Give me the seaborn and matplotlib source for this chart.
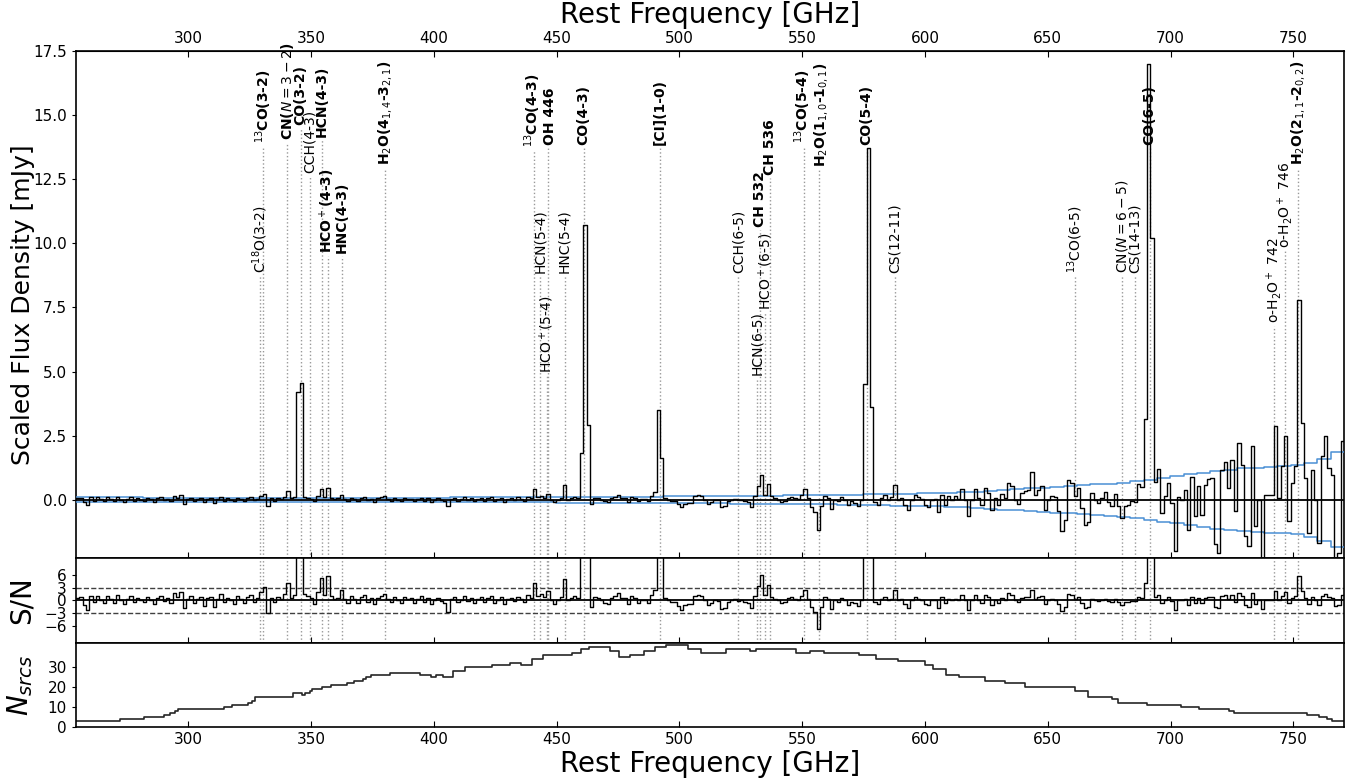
import numpy as np
import pandas as pd
import matplotlib
matplotlib.use("Agg")
import matplotlib.pyplot as plt
import seaborn as sns

# ---------------------------------------------------------------------------
# Stacked spectrum: rest-frame channel grid (GHz)
# ---------------------------------------------------------------------------
freq_lo, freq_hi, n_chan = 254.3, 770.6, 380
edges = np.linspace(freq_lo, freq_hi, n_chan + 1)

# scaled flux density per channel [mJy]
flux = [
    0.05, 0.08, -0.10, -0.22, 0.09, -0.04, 0.11, 0.02, -0.06, 0.09, 0.03, -0.05, 0.12, 0.01, -0.07, 0.04, 0.10, -0.03, 0.06, 0.00,
    -0.04, 0.07, 0.02, -0.08, 0.05, 0.10, -0.02, 0.04, -0.06, 0.15, 0.06, 0.17, -0.15, 0.03, 0.08, -0.05, 0.02, 0.06, -0.10, 0.04,
    0.07, -0.12, 0.03, 0.12, -0.03, 0.05, 0.00, -0.06, 0.08, 0.02, -0.04, 0.06, 0.10, -0.02, 0.04, 0.16, 0.24, -0.24, 0.05, -0.03,
    0.06, 0.02, 0.12, 0.33, 0.05, 0.10, 4.20, 4.55, 0.12, 0.08, 0.04, -0.06, 0.15, 0.42, 0.10, 0.45, 0.08, 0.02, 0.05, 0.20,
    0.03, -0.05, 0.08, 0.02, -0.04, 0.06, 0.11, -0.02, 0.04, -0.07, 0.05, 0.09, 0.13, 0.02, -0.03, 0.06, 0.00, -0.05, 0.07, 0.03,
    0.04, -0.06, 0.02, 0.08, -0.03, 0.05, -0.08, 0.01, 0.06, -0.02, -0.05, -0.25, 0.03, 0.07, -0.04, 0.02, 0.09, -0.01, 0.05, -0.06,
    0.03, 0.07, -0.03, 0.05, 0.10, -0.05, 0.02, 0.08, -0.07, 0.04, 0.06, -0.02, 0.09, 0.03, -0.04, 0.12, 0.05, 0.42, 0.10, 0.16,
    0.08, 0.24, 0.00, -0.10, 0.00, 0.08, 0.56, 0.00, 0.06, 0.12, 0.06, 1.82, 10.70, 2.92, -0.18, 0.08, 0.08, 0.00, -0.06, -0.10,
    0.06, 0.12, 0.20, 0.08, 0.06, -0.10, 0.12, 0.08, -0.06, 0.02, 0.02, -0.06, 0.15, 0.30, 3.50, 1.63, 0.06, 0.00, -0.04, -0.04,
    -0.18, -0.28, -0.15, -0.12, -0.12, 0.13, 0.17, 0.13, 0.00, -0.15, -0.08, 0.00, -0.02, -0.28, -0.25, -0.04, 0.00, 0.04, -0.02, 0.00,
    -0.04, -0.08, -0.28, 0.15, 0.54, 0.97, 0.20, 0.60, 0.15, 0.06, 0.00, -0.10, -0.06, 0.08, 0.12, 0.06, 0.02, 0.17, 0.43, 0.08,
    -0.28, -0.48, -1.17, -0.25, 0.13, 0.08, -0.35, 0.00, -0.06, 0.12, 0.00, -0.20, -0.06, -0.12, -0.25, 0.00, 4.50, 13.70, 3.60, -0.10,
    -0.20, 0.06, 0.19, 0.00, 0.10, 0.56, 0.00, 0.06, -0.20, -0.40, 0.00, 0.19, 0.10, 0.02, -0.20, -0.28, 0.00, 0.02, -0.48, 0.20,
    -0.20, 0.13, 0.00, 0.13, 0.03, 0.42, 0.00, -0.65, 0.00, 0.42, 0.07, -0.20, 0.45, 0.26, -0.39, 0.07, -0.20, 0.23, 0.07, 0.65,
    0.55, 0.00, -0.16, 0.26, 0.36, 0.39, 1.10, 0.20, 0.39, 0.52, -0.39, 0.00, 0.13, 0.10, -0.45, -1.23, -0.78, 0.78, 0.65, 0.13,
    0.45, -0.32, -0.97, -0.88, 0.26, 0.00, -0.13, 0.07, 0.29, -0.07, -0.26, 0.23, -0.26, -0.71, -0.26, -0.20, -0.04, -0.07, 0.62, 0.50,
    3.14, 17.00, 10.20, 0.71, 1.20, -0.52, 0.13, 0.65, -0.13, -2.00, 0.10, 0.00, 0.39, -1.17, 0.90, -0.65, 0.52, -0.58, 0.58, 0.80,
    0.84, -1.73, -2.08, 1.17, 1.49, 0.45, 1.56, -0.45, 2.23, 1.36, -1.43, -1.82, 2.10, -1.04, 0.00, -2.50, 0.20, 0.20, 0.20, 2.86,
    0.06, 1.30, 2.47, -0.84, 0.65, 1.30, 7.80, 3.00, 0.84, -1.30, 1.17, 0.00, -1.69, 1.69, 2.50, 1.23, 0.97, -2.50, -2.08, 2.30,
]

# 1-sigma noise, one value per group of four channels [mJy]
noise_per_4ch = [
    0.095, 0.095, 0.090, 0.090, 0.090, 0.088, 0.085, 0.085, 0.082, 0.080,
    0.080, 0.080, 0.078, 0.078, 0.078, 0.078, 0.078, 0.078, 0.078, 0.078,
    0.080, 0.080, 0.080, 0.082, 0.082, 0.085, 0.085, 0.088, 0.090, 0.090,
    0.092, 0.095, 0.095, 0.100, 0.100, 0.105, 0.108, 0.110, 0.112, 0.115,
    0.118, 0.120, 0.122, 0.125, 0.128, 0.130, 0.135, 0.140, 0.145, 0.150,
    0.155, 0.160, 0.165, 0.170, 0.172, 0.175, 0.180, 0.190, 0.200, 0.210,
    0.220, 0.230, 0.240, 0.250, 0.260, 0.280, 0.300, 0.320, 0.350, 0.380,
    0.410, 0.440, 0.470, 0.500, 0.530, 0.560, 0.600, 0.630, 0.660, 0.720,
    0.780, 0.850, 0.920, 1.000, 1.060, 1.120, 1.180, 1.220, 1.250, 1.280,
    1.300, 1.350, 1.450, 1.600, 1.850,
]

# number of stacked sources contributing at each frequency
nsrc_edges = [
    254.3, 272.4, 281.8, 290.0, 292.4, 294.5, 296.0, 314.5, 318.0, 324.5,
    326.0, 327.3, 342.7, 346.5, 347.5, 349.5, 350.5, 354.5, 358.0, 364.5,
    367.5, 371.0, 372.5, 374.5, 382.0, 394.5, 399.0, 401.0, 403.6, 408.0,
    412.7, 423.6, 431.0, 435.5, 440.0, 444.5, 456.4, 460.0, 463.0, 471.8,
    475.5, 480.0, 485.5, 490.0, 494.5, 503.7, 509.0, 519.0, 528.7, 531.0,
    547.3, 551.0, 553.0, 559.0, 573.0, 580.2, 589.0, 600.0, 603.3, 608.6,
    614.0, 624.6, 632.6, 640.6, 661.0, 666.4, 676.0, 678.8, 690.3, 704.2,
    711.5, 723.7, 725.7, 755.5, 760.3, 763.7, 765.7, 770.6,
]
nsrc_counts = [
    3, 4, 5, 6, 7, 8, 9, 10, 11, 12,
    13, 15, 17, 16, 17, 18, 19, 20, 21, 22,
    23, 24, 25, 26, 27, 26, 25, 26, 25, 28,
    30, 31, 32, 31, 34, 36, 37, 39, 40, 38,
    35, 36, 38, 40, 41, 39, 37, 39, 38, 39,
    37, 37, 38, 37, 36, 34, 33, 31, 29, 26,
    25, 23, 22, 20, 18, 15, 14, 12, 11, 10,
    9, 8, 7, 6, 5, 4, 3,
]

# spectral line markers: label, rest frequency [GHz], label height [mJy], bold
line_names = [
    r"C$^{18}$O(3-2)", r"$^{13}$CO(3-2)", r"CN($N=3-2$)", "CO(3-2)", "CCH(4-3)",
    "HCN(4-3)", r"HCO$^+$(4-3)", "HNC(4-3)", r"H$_2$O(4$_{1,4}$-3$_{2,1}$)",
    r"$^{13}$CO(4-3)", "HCN(5-4)", r"HCO$^+$(5-4)", "OH 446", "HNC(5-4)", "CO(4-3)",
    "[CI](1-0)", "CCH(6-5)", "HCN(6-5)", "CH 532", r"HCO$^+$(6-5)", "CH 536",
    r"$^{13}$CO(5-4)", r"H$_2$O(1$_{1,0}$-1$_{0,1}$)", "CO(5-4)", "CS(12-11)",
    r"$^{13}$CO(6-5)", r"CN($N=6-5$)", "CS(14-13)", "CO(6-5)",
    r"o-H$_2$O$^+$ 742", r"o-H$_2$O$^+$ 746", r"H$_2$O(2$_{1,1}$-2$_{0,2}$)",
]
line_freqs = [
    329.33, 330.59, 340.25, 345.80, 349.40,
    354.51, 356.73, 362.63, 380.20,
    440.77, 443.12, 445.90, 446.50, 453.27, 461.04,
    492.16, 523.97, 531.72, 532.70, 535.06, 536.80,
    550.93, 556.94, 576.27, 587.62,
    661.07, 680.20, 685.44, 691.47,
    742.10, 746.50, 752.03,
]
label_y = [
    8.85, 13.91, 14.03, 14.62, 12.74,
    14.15, 9.63, 9.63, 13.06,
    13.76, 8.85, 4.95, 13.84, 8.85, 13.84,
    13.84, 8.85, 4.87, 10.64, 7.41, 12.67,
    13.91, 12.98, 13.84, 8.85,
    8.85, 8.85, 8.85, 13.84,
    6.90, 9.82, 13.06,
]
label_bold = [
    False, True, True, True, False,
    True, True, True, True,
    True, False, False, True, False, True,
    True, False, False, True, False, True,
    True, True, True, False,
    False, False, False, True,
    False, False, True,
]
# small sideways nudges (GHz) that keep neighbouring labels apart
label_dx = {r"$^{13}$CO(4-3)": -0.7, "OH 446": 0.8,
            r"$^{13}$CO(5-4)": -0.7, r"H$_2$O(1$_{1,0}$-1$_{0,1}$)": 0.7}

# ---------------------------------------------------------------------------
sns.set_style("ticks")
plt.rcParams["font.family"] = ["DejaVu Sans"]
plt.rcParams["mathtext.fontset"] = "dejavusans"
for key in ("text.color", "axes.labelcolor", "xtick.color", "ytick.color", "axes.edgecolor"):
    plt.rcParams[key] = "black"

flux_arr = np.asarray(flux)
sigma = np.repeat(noise_per_4ch, 4)
snr = flux_arr / sigma


def stair_frame(values, xs):
    vals = np.append(values, values[-1])
    return pd.DataFrame({"x": xs, "y": vals})


fig = plt.figure(figsize=(13.64, 7.81), dpi=100)
gs = fig.add_gridspec(3, 1, height_ratios=[507, 84.4, 84.3], hspace=0.0,
                      left=0.0557, right=0.9853, top=0.9347, bottom=0.0691)
ax0 = fig.add_subplot(gs[0])
ax1 = fig.add_subplot(gs[1], sharex=ax0)
ax2 = fig.add_subplot(gs[2], sharex=ax0)

blue = "#4a8fd4"
dot_kw = dict(color="0.6", ls=":", lw=1.0, zorder=1)
ymin0, ymax0 = -2.28, 17.5

# --- main spectrum panel ---
for f, y in zip(line_freqs, label_y):
    ax0.vlines(f, ymin0, y - 0.12, **dot_kw)
ax0.axhline(0, color="k", lw=1.3, zorder=2)
sns.lineplot(data=stair_frame(sigma, edges), x="x", y="y", ax=ax0, color=blue,
             lw=1.1, drawstyle="steps-post", estimator=None, sort=False, zorder=3)
sns.lineplot(data=stair_frame(-sigma, edges), x="x", y="y", ax=ax0, color=blue,
             lw=1.1, drawstyle="steps-post", estimator=None, sort=False, zorder=3)
sns.lineplot(data=stair_frame(flux_arr, edges), x="x", y="y", ax=ax0, color="k",
             lw=1.0, drawstyle="steps-post", estimator=None, sort=False, zorder=4)

for name, f, y, b in zip(line_names, line_freqs, label_y, label_bold):
    ax0.text(f + label_dx.get(name, 0.0), y, name, rotation=90, ha="center",
             va="bottom", fontsize=10, fontweight="bold" if b else "normal", zorder=5)

ax0.set_xlim(freq_lo, freq_hi)
ax0.set_ylim(ymin0, ymax0)
ax0.set_yticks(np.arange(0, 17.6, 2.5))
ax0.set_ylabel("Scaled Flux Density [mJy]", fontsize=18)
ax0.set_xlabel("")
ax0.tick_params(axis="x", labelbottom=False)

top = ax0.secondary_xaxis("top")
top.set_xticks(np.arange(300, 751, 50))
top.set_xlabel("Rest Frequency [GHz]", fontsize=20, labelpad=6)
top.tick_params(direction="in", labelsize=11, length=4)

# --- S/N panel ---
for f in line_freqs:
    ax1.axvline(f, **dot_kw)
ax1.axhline(0, color="k", lw=1.3, zorder=2)
for lvl in (3, -3):
    ax1.axhline(lvl, color="0.25", lw=1.0, ls="--", zorder=2)
sns.lineplot(data=stair_frame(snr, edges), x="x", y="y", ax=ax1, color="k",
             lw=1.0, drawstyle="steps-post", estimator=None, sort=False, zorder=4)
ax1.set_ylim(-10, 10)
ax1.set_yticks([-6, -3, 0, 3, 6])
ax1.set_ylabel("S/N", fontsize=20)
ax1.set_xlabel("")
ax1.tick_params(axis="x", labelbottom=False)

# --- number of sources panel ---
sns.lineplot(data=stair_frame(np.asarray(nsrc_counts, float), np.asarray(nsrc_edges)),
             x="x", y="y", ax=ax2, color="0.15", lw=1.2, drawstyle="steps-post",
             estimator=None, sort=False)
ax2.set_ylim(0, 42)
ax2.set_yticks([0, 10, 20, 30])
ax2.set_ylabel(r"$N_{srcs}$", fontsize=20)
ax2.set_xticks(np.arange(300, 751, 50))
ax2.set_xlabel("Rest Frequency [GHz]", fontsize=20, labelpad=2)

for ax in (ax0, ax1, ax2):
    for sp in ax.spines.values():
        sp.set_visible(True)
        sp.set_linewidth(1.2)
    ax.tick_params(axis="x", direction="in", length=4)
    ax.tick_params(axis="y", direction="out", length=3)
    ax.tick_params(labelsize=11)
    ax.yaxis.set_label_coords(-0.032, 0.5)

fig.savefig("out.png", dpi=100)
